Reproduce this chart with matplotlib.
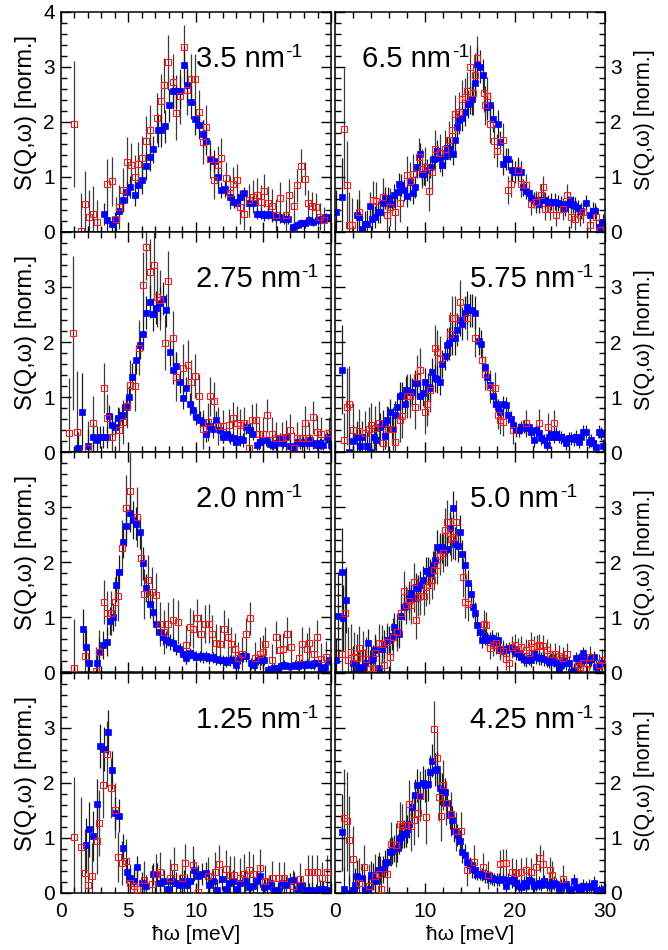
import numpy as np
import matplotlib
matplotlib.use('Agg')
import matplotlib.pyplot as plt
from matplotlib.ticker import MultipleLocator

plt.rcParams['font.family'] = ['Liberation Sans', 'DejaVu Sans']
plt.rcParams['mathtext.fontset'] = 'custom'
plt.rcParams['mathtext.rm'] = 'Liberation Sans'

# momentum transfer of each panel, left column (0-20 meV) and right column (0-30 meV)
q_left = ['3.5', '2.75', '2.0', '1.25']
q_right = ['6.5', '5.75', '5.0', '4.25']

# (energy [meV], S(Q,w), error) -- filled blue and open red points
q350_blue = [(3.22,0.33,.2),(3.47,0.21,.2),(3.8,0.14,.15),(4.04,0.21,.15),(4.33,0.38,.15),(4.6,0.58,.2),(4.9,0.73,.2),(5.15,0.82,.2),(5.47,0.68,.2),(5.72,0.86,.2),(6.0,0.94,.25),(6.3,1.2,.25),(6.6,1.36,.25),(6.85,1.5,.25),(7.17,1.85,.3),(7.44,1.85,.3),(7.7,1.92,.3),(7.99,2.3,.3),(8.28,2.56,.3),(8.55,2.56,.3),(8.85,2.56,.3),(9.1,3.04,.35),(9.35,2.67,.3),(9.67,2.36,.3),(9.96,2.06,.3),(10.23,1.94,.25),(10.5,1.79,.25),(10.78,1.65,.25),(11.05,1.32,.2),(11.35,1.29,.2),(11.65,1.0,.2),(11.9,0.76,.15),(12.18,0.79,.15),(12.5,0.64,.15),(12.8,0.55,.12),(13.05,0.52,.12),(13.3,0.64,.12),(13.6,0.7,.12),(13.9,0.52,.1),(14.2,0.53,.1),(14.5,0.33,.1),(14.8,0.33,.1),(15.07,0.30,.1),(15.35,0.33,.1),(15.64,0.30,.1),(15.9,0.28,.1),(16.2,0.27,.1),(16.5,0.24,.1),(16.8,0.24,.1),(17.2,0.09,.08),(17.5,0.12,.08),(17.8,0.16,.08),(18.1,0.16,.08),(18.4,0.21,.08),(18.7,0.18,.08),(19.05,0.21,.08),(19.35,0.24,.08),(19.66,0.27,.08),(19.96,0.28,.08)]
q350_red = [(1.0,1.96,1.15),(1.52,0.01,.7),(1.8,0.51,.6),(2.1,0.27,.5),(2.43,0.33,.5),(2.68,0.18,.4),(3.47,0.87,.45),(3.8,0.92,.45),(4.1,0.24,.4),(4.36,0.45,.4),(4.6,0.76,.4),(4.9,1.28,.45),(5.2,1.21,.4),(5.47,1.0,.4),(5.72,1.24,.4),(6.0,1.35,.4),(6.3,1.65,.45),(6.6,1.86,.45),(7.12,2.07,.45),(7.44,2.38,.5),(7.68,2.67,.5),(7.98,3.09,.5),(8.28,2.73,.5),(8.55,2.17,.5),(8.85,2.47,.5),(9.1,3.36,.4),(9.35,2.58,.45),(9.64,2.78,.45),(9.96,2.78,.45),(10.23,2.18,.4),(10.5,1.64,.4),(10.78,1.9,.4),(11.05,1.33,.35),(11.35,0.95,.35),(11.65,1.21,.35),(11.9,1.35,.35),(12.2,0.98,.3),(12.5,0.71,.3),(12.77,0.88,.3),(13.05,0.94,.3),(13.3,0.45,.3),(13.6,0.33,.3),(13.9,0.58,.3),(14.2,0.64,.3),(14.5,0.68,.3),(14.8,0.55,.3),(15.07,0.75,.3),(15.35,0.53,.3),(15.64,0.48,.3),(15.96,0.3,.3),(16.25,0.61,.3),(16.68,0.30,.3),(16.9,0.67,.3),(17.25,0.48,.3),(17.5,0.85,.3),(17.8,1.2,.3),(18.04,0.97,.3),(18.3,0.52,.25),(18.6,0.47,.25),(18.85,0.45,.25),(19.2,0.28,.25),(19.5,0.21,.25)]

q275_blue = [(1.32,0.07,.3),(1.62,0.73,.7),(2.06,0.11,.3),(2.38,0.28,.25),(2.68,0.22,.25),(2.93,0.28,.2),(3.17,0.28,.2),(3.47,0.28,.2),(3.6,0.65,.2),(3.8,0.49,.2),(4.04,0.46,.2),(4.28,0.61,.2),(4.58,0.68,.2),(4.83,0.82,.2),(5.07,1.0,.2),(5.32,1.37,.25),(5.57,1.67,.25),(5.84,1.95,.25),(6.09,2.15,.3),(6.31,2.53,.3),(6.58,2.73,.3),(6.83,2.5,.3),(7.07,2.62,.3),(7.32,2.7,.3),(7.57,2.79,.3),(7.8,2.58,.3),(8.06,1.82,.25),(8.3,1.49,.25),(8.56,1.56,.25),(8.85,1.28,.2),(9.05,0.99,.2),(9.3,1.16,.2),(9.54,0.88,.2),(9.79,0.76,.15),(10.04,0.64,.15),(10.28,0.59,.15),(10.53,0.55,.15),(10.78,0.33,.15),(11.0,0.47,.15),(11.28,0.41,.15),(11.52,0.59,.15),(11.77,0.4,.15),(12.0,0.28,.12),(12.26,0.33,.12),(12.5,0.27,.12),(12.75,0.25,.12),(13.0,0.19,.12),(13.25,0.23,.12),(13.5,0.22,.12),(13.74,0.45,.12),(14.0,0.4,.12),(14.24,0.33,.12),(14.5,0.13,.1),(14.73,0.19,.1),(14.98,0.22,.1),(15.22,0.21,.1),(15.47,0.15,.1),(15.72,0.13,.1),(15.96,0.16,.1),(16.2,0.25,.1),(16.45,0.17,.1),(16.7,0.27,.1),(16.95,0.11,.1),(17.2,0.07,.1),(17.45,0.19,.1),(17.7,0.16,.1),(17.94,0.19,.1),(18.2,0.16,.1),(18.43,0.22,.1),(18.68,0.16,.1),(18.93,0.13,.1),(19.17,0.16,.1),(19.42,0.13,.1),(19.67,0.27,.1),(19.96,0.13,.1)]
q275_red = [(0.65,0.35,1.0),(0.95,2.16,1.4),(1.25,0.37,1.1),(2.06,0.07,.5),(2.38,0.52,.5),(3.22,1.16,.45),(3.47,0.61,.45),(3.84,0.28,.4),(4.36,0.4,.4),(4.65,0.55,.4),(4.9,0.84,.4),(5.15,1.22,.45),(5.52,1.2,.45),(5.77,1.9,.5),(6.09,3.04,.6),(6.31,3.72,.6),(6.58,3.28,.6),(6.88,3.4,.6),(7.12,2.82,.55),(7.37,2.76,.55),(7.69,1.99,.5),(7.98,3.1,.55),(8.28,2.07,.5),(8.56,1.37,.45),(9.05,1.52,.45),(9.4,1.58,.45),(9.67,1.28,.4),(9.96,1.39,.4),(10.23,1.02,.4),(10.53,0.41,.35),(10.88,0.55,.35),(11.08,1.01,.35),(11.37,0.93,.35),(11.65,0.47,.35),(12.0,0.47,.3),(12.43,0.49,.3),(12.75,0.61,.3),(13.05,0.53,.3),(13.3,0.49,.3),(13.6,0.52,.3),(13.9,0.07,.3),(14.16,0.58,.3),(14.48,0.59,.3),(14.7,0.33,.3),(15.0,0.33,.3),(15.27,0.67,.3),(15.64,0.33,.3),(15.96,0.25,.3),(16.38,0.25,.3),(16.7,0.28,.3),(17.0,0.4,.3),(17.25,0.07,.3),(17.5,0.25,.3),(17.86,0.25,.3),(18.1,0.53,.3),(18.4,0.25,.3),(18.65,0.63,.3),(18.97,0.37,.3),(19.27,0.33,.3),(19.87,0.34,.3)]

q200_blue = [(1.64,0.79,.35),(1.89,0.46,.3),(2.11,0.16,.25),(2.68,0.17,.25),(2.88,0.37,.25),(3.17,0.49,.25),(3.42,0.55,.25),(3.67,0.93,.25),(3.9,1.0,.25),(4.1,1.58,.3),(4.36,1.82,.3),(4.6,2.37,.3),(4.85,2.65,.35),(5.15,2.9,.35),(5.35,2.76,.35),(5.6,2.7,.3),(5.84,2.54,.3),(6.09,1.98,.3),(6.33,1.53,.25),(6.58,1.24,.25),(6.83,1.1,.2),(7.07,0.87,.2),(7.32,0.72,.15),(7.57,0.64,.15),(7.8,0.59,.15),(8.06,0.55,.15),(8.3,0.52,.12),(8.56,0.43,.12),(8.8,0.41,.12),(9.05,0.33,.1),(9.3,0.25,.1),(9.54,0.34,.1),(9.79,0.31,.1),(10.04,0.28,.1),(10.28,0.29,.1),(10.53,0.27,.1),(10.78,0.29,.1),(11.0,0.25,.1),(11.28,0.27,.1),(11.52,0.23,.1),(11.77,0.22,.1),(12.0,0.21,.1),(12.26,0.19,.1),(12.5,0.21,.1),(12.75,0.21,.1),(13.0,0.13,.1),(13.25,0.25,.1),(13.5,0.29,.1),(13.74,0.29,.1),(14.1,0.16,.1),(14.34,0.13,.1),(14.58,0.22,.1),(14.83,0.23,.1),(15.07,0.22,.1),(15.32,0.04,.08),(15.56,0.05,.08),(15.8,0.08,.08),(16.05,0.08,.08),(16.3,0.11,.08),(16.55,0.13,.08),(16.8,0.11,.08),(17.05,0.11,.08),(17.3,0.13,.08),(17.54,0.11,.08),(17.79,0.15,.08),(18.04,0.13,.08),(18.28,0.15,.08),(18.53,0.13,.08),(18.78,0.16,.08),(19.02,0.16,.08),(19.27,0.07,.08),(19.52,0.1,.08),(19.83,0.21,.08)]
q200_red = [(1.0,0.07,.9),(1.8,0.29,.5),(2.63,0.01,.45),(2.88,0.37,.4),(3.22,1.28,.4),(3.42,1.08,.4),(3.72,1.08,.4),(4.04,1.28,.45),(4.28,1.38,.45),(4.58,2.26,.5),(4.85,2.99,.6),(5.15,3.3,.7),(5.65,2.82,.55),(5.94,2.07,.5),(6.2,1.42,.45),(6.5,1.67,.45),(6.76,1.46,.45),(7.04,1.4,.4),(7.32,0.88,.4),(7.62,0.73,.4),(7.98,0.87,.4),(8.3,0.95,.4),(8.72,0.91,.4),(9.3,0.5,.35),(9.54,0.82,.35),(9.79,0.78,.35),(10.1,0.98,.35),(10.38,0.7,.35),(10.68,0.87,.35),(10.95,0.88,.35),(11.2,0.69,.35),(11.5,0.53,.35),(11.8,0.51,.35),(12.06,0.78,.35),(12.36,0.63,.35),(12.63,0.51,.3),(12.88,0.41,.3),(13.1,0.25,.3),(13.42,0.33,.3),(13.74,0.69,.3),(14.0,0.98,.3),(14.4,0.25,.3),(14.73,0.33,.3),(15.0,0.37,.3),(15.15,0.51,.3),(15.64,0.21,.3),(15.96,0.63,.3),(16.2,0.4,.3),(16.45,0.41,.3),(16.75,0.7,.3),(17.05,0.46,.3),(17.6,0.25,.3),(17.86,0.51,.3),(18.2,0.41,.3),(18.4,0.52,.3),(18.73,0.33,.3),(18.97,0.64,.3),(19.27,0.23,.3),(19.6,0.27,.3)]

q125_blue = [(1.86,0.87,.5),(2.11,1.16,.5),(2.38,1.04,.45),(2.68,1.62,.45),(2.93,2.67,.4),(3.22,2.62,.4),(3.5,2.93,.4),(3.8,2.24,.35),(4.04,1.45,.3),(4.33,1.4,.3),(4.6,0.82,.25),(4.9,0.39,.25),(5.15,0.28,.2),(5.4,0.22,.2),(5.68,0.47,.2),(6.0,0.18,.2),(6.3,0.13,.2),(6.83,0.35,.2),(7.12,0.35,.2),(7.37,0.18,.2),(7.67,0.22,.2),(7.98,0.08,.2),(8.24,0.22,.2),(8.53,0.18,.2),(8.8,0.15,.2),(9.1,0.22,.2),(9.35,0.15,.2),(9.6,0.22,.2),(9.9,0.42,.2),(10.14,0.31,.2),(10.46,0.35,.2),(10.78,0.36,.2),(11.0,0.15,.2),(11.3,0.22,.2),(11.6,0.05,.2),(11.94,0.25,.2),(12.2,0.08,.2),(12.44,0.18,.2),(12.75,0.21,.2),(13.05,0.08,.2),(13.3,0.18,.2),(13.62,0.21,.2),(13.9,0.1,.2),(14.2,0.12,.2),(14.5,0.21,.2),(14.74,0.31,.2),(15.03,0.1,.15),(15.27,0.12,.15),(15.52,0.18,.15),(15.81,0.05,.15),(16.06,0.05,.15),(16.38,0.18,.15),(16.68,0.15,.15),(16.95,0.21,.15),(17.25,0.24,.15),(17.5,0.08,.15),(17.79,0.15,.15),(18.04,0.05,.15),(18.36,0.04,.15),(18.6,0.05,.15),(18.85,0.02,.15),(19.15,0.08,.15),(19.4,0.07,.15),(19.72,0.05,.15)]
q125_red = [(1.0,1.01,1.1),(1.52,0.84,.9),(1.8,0.36,.8),(2.06,0.15,.7),(2.36,0.31,.6),(2.68,0.95,.6),(2.88,1.28,.6),(3.17,1.96,.6),(3.47,2.53,.6),(3.75,1.91,.55),(4.04,1.5,.5),(4.28,0.65,.45),(4.58,0.55,.4),(4.85,0.59,.4),(5.1,0.18,.35),(5.4,0.13,.35),(5.65,0.08,.35),(6.18,0.24,.35),(6.75,0.16,.35),(7.07,0.35,.35),(7.32,0.39,.35),(8.1,0.27,.35),(8.4,0.48,.35),(8.97,0.27,.35),(9.2,0.54,.35),(9.79,0.51,.35),(10.14,0.02,.35),(10.88,0.31,.35),(11.45,0.39,.35),(11.7,0.53,.35),(12.26,0.43,.35),(12.56,0.33,.35),(12.85,0.33,.35),(13.3,0.28,.35),(13.6,0.35,.35),(13.9,0.42,.35),(14.2,0.35,.35),(14.74,0.45,.35),(15.15,0.21,.3),(15.64,0.28,.3),(16.13,0.27,.3),(16.5,0.27,.3),(17.2,0.12,.3),(17.7,0.25,.3),(18.28,0.39,.3),(18.6,0.39,.3),(18.93,0.39,.3),(19.35,0.27,.3),(19.72,0.39,.3)]

q650_blue = [(0.05,0.36,.4),(0.7,0.64,.7),(2.35,0.30,.3),(2.65,0.28,.3),(3.0,0.06,.25),(3.3,0.14,.25),(3.5,0.15,.25),(3.8,0.48,.25),(4.1,0.24,.2),(4.4,0.27,.2),(4.7,0.36,.2),(4.95,0.36,.2),(5.25,0.53,.2),(5.5,0.61,.2),(5.87,0.62,.2),(6.25,0.5,.2),(6.5,0.67,.2),(6.8,0.73,.2),(7.1,0.88,.2),(7.35,0.85,.2),(7.6,0.77,.2),(8.0,0.65,.2),(8.3,0.91,.2),(8.6,0.71,.2),(8.85,0.81,.2),(9.1,1.18,.2),(9.4,1.41,.2),(9.6,1.06,.2),(9.9,1.05,.2),(10.2,1.12,.2),(10.5,1.18,.2),(11.0,1.32,.2),(11.3,1.48,.2),(11.6,1.35,.2),(11.9,1.21,.2),(12.2,1.38,.2),(12.4,1.52,.2),(12.7,1.5,.2),(13.1,1.42,.2),(13.3,1.67,.25),(13.5,1.91,.25),(13.8,2.03,.25),(14.1,2.08,.25),(14.4,2.18,.25),(14.7,2.33,.25),(14.95,2.39,.25),(15.25,2.42,.3),(15.5,2.7,.3),(15.8,3.06,.3),(16.1,3.0,.3),(16.4,2.85,.3),(16.9,2.28,.25),(17.2,2.3,.25),(17.5,2.06,.25),(18.1,1.96,.25),(18.35,1.64,.2),(18.65,1.24,.2),(18.95,1.32,.2),(19.2,1.32,.2),(19.6,1.12,.2),(19.95,1.09,.2),(20.3,1.12,.2),(20.6,1.09,.2),(20.9,0.81,.15),(21.25,0.75,.15),(21.55,0.7,.15),(21.8,0.61,.15),(22.05,0.58,.15),(22.35,0.55,.15),(22.65,0.5,.15),(22.9,0.58,.15),(23.3,0.58,.15),(23.65,0.52,.15),(24.0,0.55,.15),(24.4,0.55,.15),(24.75,0.53,.15),(25.1,0.5,.15),(25.5,0.44,.15),(25.9,0.5,.15),(26.1,0.58,.15),(26.4,0.5,.15),(26.7,0.48,.15),(26.95,0.44,.15),(27.35,0.38,.15),(27.9,0.53,.15),(28.3,0.3,.15),(28.65,0.39,.15),(28.9,0.38,.15),(29.3,0.09,.15),(29.6,0.04,.15),(29.8,0.18,.15)]
q650_red = [(0.95,1.88,1.1),(1.25,0.86,.8),(1.55,0.12,.6),(1.8,0.12,.5),(2.65,0.36,.4),(4.2,0.58,.35),(4.55,0.56,.35),(5.25,0.64,.35),(5.75,0.30,.35),(6.05,0.45,.35),(6.6,0.36,.35),(7.15,0.53,.35),(8.0,1.03,.35),(8.3,0.92,.35),(8.65,1.06,.35),(9.3,1.36,.35),(9.6,1.15,.35),(9.95,1.19,.35),(10.4,0.74,.35),(10.8,1.09,.35),(11.05,1.5,.35),(11.6,1.44,.35),(12.2,1.5,.35),(12.65,1.67,.35),(13.0,1.85,.35),(13.3,2.14,.35),(13.75,2.19,.35),(14.1,2.41,.35),(14.4,2.45,.35),(14.65,2.56,.35),(14.95,3.0,.4),(15.3,2.53,.4),(15.5,2.85,.4),(15.8,3.17,.4),(16.5,2.53,.35),(16.7,2.3,.35),(16.9,2.47,.35),(17.2,1.97,.35),(17.7,1.65,.3),(18.0,1.48,.3),(18.6,1.68,.3),(19.2,0.76,.25),(19.5,0.88,.25),(20.3,1.12,.25),(20.6,0.88,.25),(21.25,0.86,.2),(21.8,0.5,.2),(22.35,0.55,.2),(22.9,0.68,.2),(23.1,0.82,.2),(23.3,0.42,.2),(23.85,0.42,.2),(24.5,0.30,.2),(25.3,0.42,.2),(25.75,0.67,.2),(26.25,0.27,.2),(26.7,0.24,.2),(27.2,0.30,.2),(27.6,0.36,.2),(28.35,0.12,.2),(28.95,0.27,.2),(29.45,0.04,.2)]

q575_blue = [(0.7,1.5,.8),(1.54,0.0,.35),(1.9,0.2,.3),(2.35,0.27,.3),(2.7,0.11,.3),(2.98,0.27,.3),(3.5,0.11,.25),(4.0,0.0,.25),(4.3,0.28,.25),(4.55,0.22,.25),(5.0,0.46,.25),(5.25,0.51,.25),(5.5,0.3,.25),(5.75,0.58,.25),(6.05,0.72,.25),(6.3,0.41,.25),(6.6,0.67,.25),(6.9,0.81,.25),(7.15,1.02,.25),(7.45,1.03,.25),(7.7,0.88,.25),(7.9,1.13,.25),(8.3,1.09,.25),(8.55,1.09,.25),(8.85,1.25,.25),(9.1,1.25,.25),(9.4,1.02,.25),(9.7,1.08,.25),(9.95,1.28,.25),(10.25,1.19,.25),(10.5,1.16,.25),(10.8,1.46,.25),(11.05,1.35,.25),(11.3,1.32,.25),(11.6,1.28,.25),(11.9,1.6,.25),(12.2,1.75,.25),(12.4,1.95,.3),(12.65,1.98,.3),(12.98,2.07,.3),(13.3,2.07,.3),(13.55,2.22,.3),(13.85,2.4,.3),(14.1,2.33,.3),(14.4,2.53,.3),(14.65,2.63,.3),(14.95,2.58,.3),(15.25,2.58,.3),(15.55,2.53,.3),(15.95,2.02,.25),(16.25,1.96,.25),(16.6,1.55,.2),(16.9,1.37,.2),(17.2,1.22,.2),(17.55,1.01,.2),(17.85,0.88,.15),(18.1,0.82,.15),(18.35,0.73,.15),(18.6,0.87,.15),(18.95,0.85,.15),(19.2,0.67,.15),(19.5,0.6,.15),(19.75,0.49,.12),(20.15,0.4,.12),(20.45,0.4,.12),(20.7,0.45,.12),(21.0,0.46,.12),(21.25,0.43,.12),(21.55,0.45,.12),(21.8,0.37,.12),(22.05,0.22,.12),(22.35,0.4,.12),(22.65,0.35,.12),(22.9,0.25,.12),(23.2,0.21,.12),(23.5,0.13,.12),(23.75,0.28,.12),(24.0,0.33,.12),(24.3,0.28,.12),(24.55,0.33,.12),(24.85,0.28,.12),(25.15,0.27,.12),(25.4,0.23,.12),(25.7,0.16,.12),(26.0,0.25,.12),(26.25,0.25,.12),(26.5,0.23,.12),(26.8,0.28,.12),(27.1,0.19,.12),(27.35,0.27,.12),(27.6,0.37,.12),(27.9,0.37,.12),(28.2,0.19,.12),(28.45,0.21,.12),(28.7,0.16,.12),(29.0,0.1,.12),(29.3,0.37,.12),(29.55,0.33,.12),(29.8,0.11,.12)]
q575_red = [(0.95,0.21,.5),(1.25,0.82,.7),(1.55,0.87,.7),(1.9,0.4,.5),(2.65,0.38,.4),(3.3,0.35,.4),(3.75,0.41,.4),(4.0,0.49,.4),(4.4,0.43,.4),(4.85,0.53,.4),(5.25,0.16,.4),(5.85,0.41,.4),(6.35,0.41,.4),(6.6,0.19,.4),(7.15,0.58,.4),(7.45,0.65,.4),(8.0,1.01,.4),(8.3,1.01,.4),(8.85,0.82,.4),(9.1,1.37,.4),(9.4,1.49,.4),(9.95,0.72,.4),(10.2,0.87,.4),(10.5,1.13,.4),(11.05,1.9,.4),(11.3,1.81,.4),(11.6,1.7,.4),(12.72,2.15,.4),(13.0,2.43,.4),(13.35,2.43,.4),(13.85,2.73,.4),(14.6,2.43,.4),(15.55,2.08,.35),(16.35,1.67,.3),(16.6,1.42,.3),(17.2,1.19,.3),(17.8,1.16,.3),(18.1,0.67,.25),(18.35,0.58,.25),(18.65,0.55,.25),(19.75,0.4,.25),(21.25,0.52,.25),(22.65,0.53,.25),(23.65,0.46,.25),(24.3,0.52,.25)]

q500_blue = [(0.05,0.22,.4),(0.3,1.01,.8),(0.7,1.81,.8),(0.87,0.98,.6),(1.17,1.31,.6),(1.9,0.17,.3),(2.55,0.07,.3),(2.9,0.1,.3),(3.3,0.16,.25),(3.65,0.53,.25),(3.9,0.22,.25),(4.2,0.25,.25),(4.45,0.4,.25),(4.8,0.07,.25),(5.15,0.41,.25),(5.4,0.51,.25),(5.7,0.58,.25),(6.0,0.59,.25),(6.25,0.65,.25),(6.55,0.82,.25),(6.8,0.72,.25),(7.05,0.69,.25),(7.35,1.01,.25),(7.6,1.19,.25),(7.9,1.2,.25),(8.15,1.34,.25),(8.45,1.43,.25),(8.7,1.34,.25),(8.95,1.55,.25),(9.2,1.52,.25),(9.45,1.59,.25),(9.75,1.67,.25),(10.05,1.84,.25),(10.3,1.84,.25),(10.55,1.8,.25),(10.85,1.95,.25),(11.1,2.04,.25),(11.3,2.28,.3),(11.6,2.23,.3),(11.9,2.28,.3),(12.15,2.22,.3),(12.4,2.23,.3),(12.7,2.61,.3),(13.1,2.99,.3),(13.3,2.33,.3),(13.6,2.3,.3),(13.85,2.55,.3),(14.1,2.15,.25),(14.4,1.95,.25),(14.7,1.61,.25),(15.05,1.42,.2),(15.3,1.19,.2),(15.55,1.07,.2),(15.8,0.85,.2),(16.05,0.73,.15),(16.35,0.59,.15),(16.6,0.64,.15),(16.85,0.58,.15),(17.2,0.58,.15),(17.45,0.61,.15),(17.7,0.53,.15),(18.1,0.58,.15),(18.35,0.4,.12),(18.65,0.41,.12),(19.0,0.4,.12),(19.3,0.43,.12),(19.6,0.45,.12),(19.9,0.41,.12),(20.15,0.34,.12),(20.45,0.33,.12),(20.7,0.28,.12),(21.0,0.23,.12),(21.25,0.22,.12),(21.55,0.25,.12),(21.8,0.21,.12),(22.05,0.33,.12),(22.35,0.27,.12),(22.65,0.25,.12),(22.9,0.25,.12),(23.2,0.23,.12),(23.5,0.22,.12),(23.75,0.19,.12),(24.0,0.22,.12),(24.3,0.21,.12),(24.6,0.16,.12),(24.85,0.04,.12),(25.1,0.13,.12),(25.45,0.21,.12),(25.7,0.16,.12),(26.0,0.17,.12),(26.25,0.0,.12),(26.5,0.04,.12),(26.8,0.25,.12),(27.1,0.22,.12),(27.35,0.19,.12),(27.6,0.34,.12),(27.9,0.21,.12),(28.2,0.21,.12),(28.45,0.23,.12),(28.75,0.27,.12),(29.0,0.1,.12),(29.3,0.13,.12),(29.55,0.16,.12),(29.85,0.17,.12)]
q500_red = [(0.7,0.33,.8),(1.05,1.08,.8),(1.4,0.21,.6),(1.7,0.37,.5),(2.05,0.28,.45),(2.35,0.25,.45),(2.65,0.43,.4),(3.1,0.34,.4),(3.45,0.23,.4),(3.85,0.05,.35),(4.2,0.07,.35),(4.45,0.34,.35),(4.85,0.53,.35),(5.15,0.51,.35),(5.4,0.13,.35),(5.7,0.55,.35),(6.05,0.28,.35),(6.45,0.64,.35),(6.85,0.73,.35),(7.25,1.07,.35),(7.6,1.48,.35),(7.9,1.22,.35),(8.15,1.3,.35),(8.45,1.22,.35),(8.7,1.64,.35),(9.0,0.95,.35),(9.2,1.37,.35),(9.45,1.39,.35),(9.85,1.39,.35),(10.1,1.55,.35),(10.4,1.58,.35),(10.7,1.67,.35),(11.0,1.85,.35),(11.25,1.95,.35),(11.6,2.11,.35),(11.95,2.16,.35),(12.2,2.58,.4),(12.4,2.73,.4),(12.7,2.52,.4),(12.9,2.42,.4),(13.1,2.45,.4),(13.4,2.73,.4),(14.2,1.72,.35),(14.45,1.28,.3),(14.75,1.23,.3),(16.5,0.88,.25),(16.8,0.85,.25),(17.2,0.43,.2),(17.55,0.49,.2),(17.9,0.52,.2),(18.3,0.41,.2),(18.65,0.39,.2),(19.0,0.23,.2),(19.3,0.16,.2),(19.6,0.46,.2),(19.95,0.49,.2),(20.3,0.41,.2),(20.7,0.46,.2),(21.25,0.4,.2),(21.55,0.34,.2),(21.8,0.52,.2),(22.05,0.46,.2),(22.45,0.47,.2),(22.7,0.5,.2),(23.1,0.47,.2),(23.5,0.4,.2),(23.85,0.33,.2),(24.4,0.33,.2),(24.85,0.29,.2),(25.3,0.25,.2),(25.75,0.33,.2),(26.95,0.13,.2),(27.25,0.1,.2),(27.6,0.16,.2),(27.9,0.05,.2),(28.3,0.28,.2),(29.3,0.13,.2),(29.7,0.21,.2)]

q425_blue = [(0.7,1.1,.7),(0.95,0.08,.4),(1.55,0.0,.3),(1.9,0.05,.3),(2.15,0.15,.3),(2.35,0.3,.3),(2.9,0.27,.25),(3.3,0.05,.25),(3.65,0.08,.25),(3.9,0.33,.25),(4.2,0.3,.25),(4.45,0.22,.25),(4.7,0.42,.25),(5.0,0.42,.25),(5.25,0.43,.25),(5.5,0.54,.25),(5.75,0.57,.25),(6.05,0.75,.25),(6.3,0.77,.25),(6.55,0.81,.25),(6.8,0.81,.25),(7.1,0.95,.25),(7.35,1.01,.25),(7.6,1.07,.25),(7.85,1.08,.25),(8.0,1.16,.25),(8.2,1.25,.25),(8.55,1.56,.25),(8.85,1.78,.3),(9.1,1.96,.3),(9.4,1.76,.3),(9.7,2.0,.3),(9.95,1.96,.3),(10.25,1.98,.3),(10.5,2.2,.3),(10.8,2.4,.3),(11.05,2.24,.3),(11.3,2.26,.3),(11.6,1.9,.3),(11.85,1.88,.3),(12.15,1.84,.25),(12.4,1.64,.25),(12.7,1.42,.25),(12.95,1.33,.25),(13.25,1.13,.2),(13.55,1.05,.2),(13.85,0.95,.2),(14.1,0.75,.2),(14.4,0.69,.2),(14.65,0.57,.15),(14.95,0.51,.15),(15.2,0.43,.15),(15.5,0.41,.15),(15.8,0.35,.12),(16.05,0.35,.12),(16.35,0.33,.12),(16.6,0.31,.12),(16.85,0.3,.12),(17.15,0.28,.12),(17.45,0.27,.12),(17.7,0.25,.12),(18.0,0.25,.12),(18.25,0.24,.12),(18.65,0.25,.12),(18.95,0.12,.12),(19.2,0.24,.12),(19.6,0.21,.12),(19.85,0.25,.12),(20.15,0.18,.12),(20.45,0.13,.12),(20.7,0.1,.12),(20.95,0.19,.12),(21.25,0.13,.12),(21.55,0.24,.12),(21.8,0.21,.12),(22.05,0.13,.12),(22.35,0.16,.12),(22.65,0.18,.12),(22.9,0.15,.12),(23.2,0.21,.12),(23.5,0.16,.12),(23.75,0.15,.12),(24.0,0.15,.12),(24.3,0.18,.12),(24.6,0.16,.12),(24.85,0.05,.12),(25.1,0.13,.12),(25.45,0.15,.12),(25.7,0.16,.12),(26.0,0.07,.12),(26.25,0.05,.12),(26.5,0.22,.12),(26.8,0.1,.12),(27.1,0.07,.12),(27.35,0.08,.12),(27.6,0.13,.12),(27.9,0.1,.12),(28.2,0.13,.12),(28.45,0.1,.12),(28.75,0.19,.12),(29.0,0.05,.12),(29.3,0.02,.12),(29.55,0.05,.12),(29.85,0.08,.12)]
q425_red = [(0.95,1.36,.9),(1.25,1.3,.9),(1.55,0.96,.8),(1.9,0.61,.6),(2.65,0.18,.45),(3.2,0.47,.4),(3.75,0.13,.4),(4.4,0.3,.4),(4.85,0.35,.4),(5.1,0.07,.4),(5.75,0.35,.4),(6.15,0.89,.4),(6.7,0.87,.4),(7.15,1.25,.4),(7.45,1.22,.4),(7.85,1.24,.4),(8.2,1.61,.45),(8.45,1.21,.45),(8.7,1.32,.45),(9.2,1.46,.45),(9.45,1.76,.45),(10.05,1.39,.5),(10.95,2.99,.5),(11.25,2.45,.5),(11.55,1.75,.45),(11.8,1.4,.45),(12.0,1.96,.45),(12.35,1.63,.4),(12.9,1.44,.4),(13.45,1.12,.35),(14.0,1.12,.35),(14.6,0.42,.3),(15.4,0.57,.3),(16.45,0.48,.25),(17.0,0.33,.25),(18.3,0.53,.25),(18.65,0.55,.25),(19.0,0.55,.25),(19.6,0.39,.25),(20.15,0.37,.25),(20.7,0.39,.25),(21.25,0.41,.25),(21.8,0.39,.25),(22.35,0.48,.25),(22.8,0.63,.25),(23.15,0.53,.25),(23.85,0.41,.25),(24.1,0.33,.25),(25.3,0.25,.25)]

left_blue = [q350_blue, q275_blue, q200_blue, q125_blue]
left_red = [q350_red, q275_red, q200_red, q125_red]
right_blue = [q650_blue, q575_blue, q500_blue, q425_blue]
right_red = [q650_red, q575_red, q500_red, q425_red]

fig = plt.figure(figsize=(6.68, 9.5), dpi=100)

row_bottom = [0.7558, 0.5242, 0.2926, 0.0600]
row_height = 0.2316
columns = [
    dict(left=0.0906, width=0.405, xmax=20, major=5, minor=1, q=q_left,
         blue=left_blue, red=left_red, label_x=10.0,
         title_x=-0.128, title_size=17),
    dict(left=0.5022, width=0.4034, xmax=30, major=10, minor=2, q=q_right,
         blue=right_blue, red=right_red, label_x=15.0,
         title_x=1.148, title_size=15.5),
]

for c, col in enumerate(columns):
    for r in range(4):
        ax = fig.add_axes([col['left'], row_bottom[r], col['width'], row_height])
        bx, by, be = np.array(col['blue'][r]).T
        rx, ry, re_ = np.array(col['red'][r]).T
        ax.errorbar(rx, ry, yerr=re_, fmt='none', ecolor='#3a3a3a', elinewidth=0.9, zorder=1)
        ax.errorbar(bx, by, yerr=be, fmt='none', ecolor='#1a1a1a', elinewidth=0.9, zorder=1)
        ax.plot(bx, by, 's', color='#0000ff', ms=5, mec='#0000ff', mew=0.5, zorder=2)
        ax.plot(rx, ry, 's', mfc='none', mec='#ff1a1a', ms=5, mew=0.8, zorder=3)

        ax.set_xlim(0, col['xmax'])
        ax.set_ylim(0, 4)
        ax.xaxis.set_major_locator(MultipleLocator(col['major']))
        ax.xaxis.set_minor_locator(MultipleLocator(col['minor']))
        ax.set_yticks([0, 1, 2, 3, 4])
        ax.yaxis.set_minor_locator(MultipleLocator(0.2))
        ax.set_yticklabels(['0', '1', '2', '3', '4' if (c == 0 and r == 0) else ''])
        if c == 0:
            ax.set_xticks([0, 5, 10, 15, 20])
            ax.set_xticklabels(['0', '5', '10', '15', ''])
        ax.tick_params(which='both', direction='in', top=True, bottom=True,
                       left=True, right=True, width=1, labelsize=15,
                       labelbottom=(r == 3), labelleft=(c == 0), labelright=(c == 1))
        ax.tick_params(which='major', length=7, pad=4)
        ax.tick_params(axis='x', which='major', pad=6.5)
        ax.tick_params(which='minor', length=4)
        for s in ax.spines.values():
            s.set_linewidth(1.1)

        # panel label with a small "-1" exponent
        lx = 3.0 if (c == 1 and r == 0) else col['label_x']
        t = ax.text(lx, 3.0, col['q'][r] + ' nm', fontsize=21, ha='left', va='baseline')
        ax.annotate('-1', xy=(1.0, 1.0), xycoords=t, xytext=(0.5, 1),
                    textcoords='offset points', fontsize=14, ha='left', va='top')

        ax.text(col['title_x'], 0.19, 'S(Q,ω) [norm.]', rotation=90,
                fontsize=col['title_size'], ha='center', va='bottom',
                transform=ax.transAxes)
        if r == 3:
            ax.set_xlabel('ħω [meV]', fontsize=15, labelpad=3)

fig.savefig('out.png', dpi=100)
